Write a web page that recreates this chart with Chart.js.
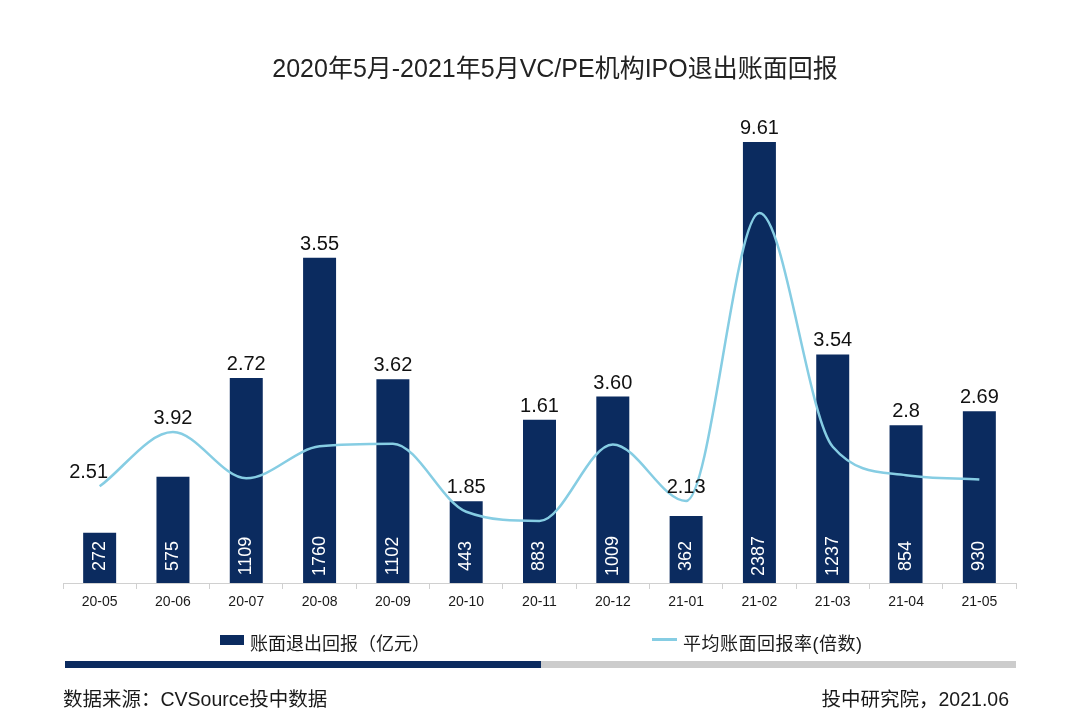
<!DOCTYPE html>
<html>
<head>
<meta charset="utf-8">
<script src="https://cdn.jsdelivr.net/npm/chart.js@4/dist/chart.umd.min.js"></script>
<style>
  html, body { margin:0; padding:0; background:#fff; }
  body { width:1080px; height:728px; position:relative; overflow:hidden;
         font-family:"Liberation Sans","Noto Sans CJK SC",sans-serif; color:#1a1a1a; }
  #wrap { position:absolute; left:0; top:0; width:1080px; height:728px; }
  .title { position:absolute; top:48px; left:0; width:1110px; text-align:center; font-size:25px; color:#222; }
  .leg { position:absolute; top:629px; font-size:18px; color:#1a1a1a; white-space:nowrap; }
  .sw-bar { position:absolute; left:220px; top:635px; width:24px; height:10px; background:#0b2b5f; }
  .sw-line { position:absolute; left:652px; top:638px; width:25px; height:3px; background:#86cde3; }
  .prog1 { position:absolute; left:65px; top:661px; width:476px; height:7px; background:#0b2b5f; }
  .prog2 { position:absolute; left:541px; top:661px; width:475px; height:7px; background:#cccccc; }
  .foot { position:absolute; top:683px; font-size:19.5px; color:#1a1a1a; white-space:nowrap; }
</style>
</head>
<body>
<div id="wrap"><canvas id="c" width="1080" height="728"></canvas></div>
<div class="title">2020年5月-2021年5月VC/PE机构IPO退出账面回报</div>
<div class="sw-bar"></div>
<div class="leg" style="left:250px;">账面退出回报（亿元）</div>
<div class="sw-line"></div>
<div class="leg" style="left:683px; letter-spacing:0.5px;">平均账面回报率(倍数)</div>
<div class="prog1"></div>
<div class="prog2"></div>
<div class="foot" style="left:63px;">数据来源：CVSource投中数据</div>
<div class="foot" style="right:71px;">投中研究院，2021.06</div>
<script>
const categories = ["20-05","20-06","20-07","20-08","20-09","20-10","20-11","20-12","21-01","21-02","21-03","21-04","21-05"];
const exitReturns = [272, 575, 1109, 1760, 1102, 443, 883, 1009, 362, 2387, 1237, 854, 930];
const avgMultiple = [2.51, 3.92, 2.72, 3.55, 3.62, 1.85, 1.61, 3.60, 2.13, 9.61, 3.54, 2.8, 2.69];
const multipleLabels = ["2.51","3.92","2.72","3.55","3.62","1.85","1.61","3.60","2.13","9.61","3.54","2.8","2.69"];

const NAVY = "#0b2b5f";
const LIGHT = "#86cde3";
const FONT = '"Liberation Sans","Noto Sans CJK SC",sans-serif';

const labelPlugin = {
  id: "labels",
  afterDatasetsDraw(chart) {
    const ctx = chart.ctx;
    const barMeta = chart.getDatasetMeta(1);
    const lineMeta = chart.getDatasetMeta(0);
    ctx.save();
    barMeta.data.forEach((bar, i) => {
      ctx.save();
      ctx.translate(bar.x, 556);
      ctx.rotate(-Math.PI / 2);
      ctx.fillStyle = "#ffffff";
      ctx.font = "18px " + FONT;
      ctx.textAlign = "center";
      ctx.textBaseline = "middle";
      ctx.fillText(String(exitReturns[i]), 0, 0);
      ctx.restore();
    });
    barMeta.data.forEach((bar, i) => {
      const pt = lineMeta.data[i];
      const top = Math.min(bar.y, pt.y);
      ctx.fillStyle = "#111111";
      ctx.font = "20px " + FONT;
      ctx.textAlign = "center";
      ctx.textBaseline = "alphabetic";
      const dx = i === 0 ? -11 : 0;
      ctx.fillText(multipleLabels[i], bar.x + dx, top - 8);
    });
    ctx.restore();
  }
};

new Chart(document.getElementById("c"), {
  data: {
    labels: categories,
    datasets: [
      {
        type: "line",
        label: "平均账面回报率(倍数)",
        data: avgMultiple,
        yAxisID: "y2",
        borderColor: LIGHT,
        borderWidth: 2.5,
        pointRadius: 0,
        fill: false,
        cubicInterpolationMode: "monotone",
        order: 0
      },
      {
        type: "bar",
        label: "账面退出回报（亿元）",
        data: exitReturns,
        yAxisID: "y1",
        backgroundColor: NAVY,
        barPercentage: 0.45,
        categoryPercentage: 1.0,
        order: 1
      }
    ]
  },
  options: {
    responsive: false,
    animation: false,
    layout: { padding: { left: 63, right: 64, top: 121, bottom: 115 } },
    plugins: { legend: { display: false }, title: { display: false }, tooltip: { enabled: false } },
    scales: {
      x: {
        offset: true,
        grid: { offset: true, drawOnChartArea: false, drawTicks: true, tickLength: 6, color: "#d0d0d0" },
        border: { color: "#d0d0d0", width: 1 },
        ticks: { color: "#1a1a1a", font: { size: 14, family: FONT }, padding: 5 },
        afterFit(s) { s.height = 30; }
      },
      y1: { display: false, min: 0, max: 2500, position: "left" },
      y2: { display: false, min: 0, max: 12, position: "right" }
    }
  },
  plugins: [labelPlugin]
});
</script>
</body>
</html>
